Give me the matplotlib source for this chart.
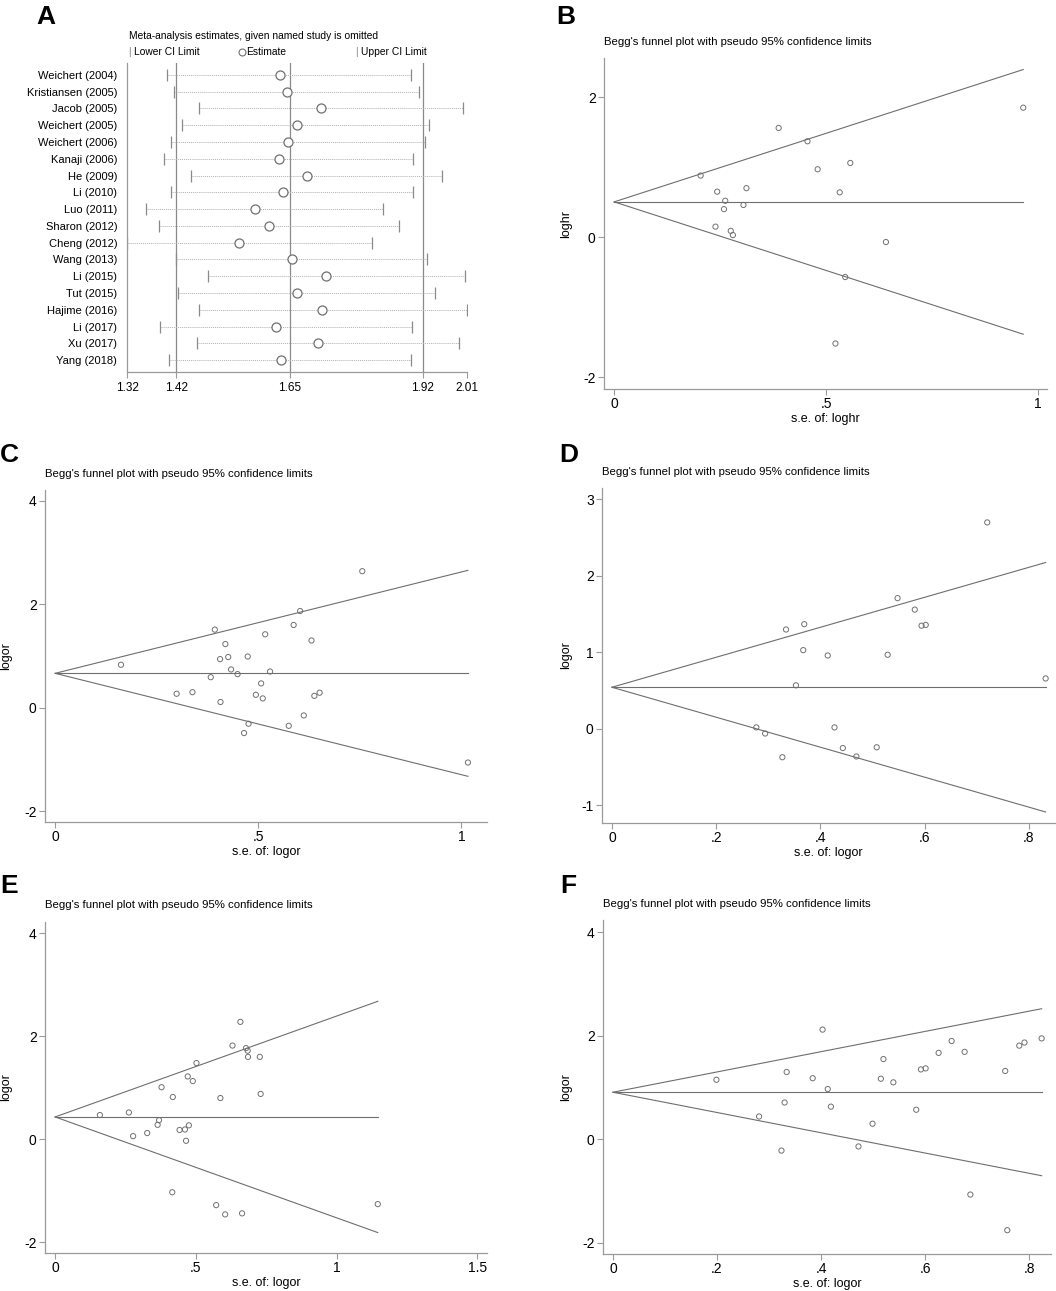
import matplotlib
matplotlib.use("Agg")
import matplotlib.pyplot as plt

plt.rcParams['font.family'] = ['Liberation Sans', 'DejaVu Sans']

W, H = 1056, 1291

# ---- panel A: leave-one-out sensitivity ----
studies = ["Weichert (2004)", "Kristiansen (2005)", "Jacob (2005)", "Weichert (2005)",
           "Weichert (2006)", "Kanaji (2006)", "He (2009)", "Li (2010)", "Luo (2011)",
           "Sharon (2012)", "Cheng (2012)", "Wang (2013)", "Li (2015)", "Tut (2015)",
           "Hajime (2016)", "Li (2017)", "Xu (2017)", "Yang (2018)"]
a_lower = [1.402, 1.416, 1.467, 1.432, 1.409, 1.396, 1.450, 1.409, 1.358,
           1.384, 1.320, 1.419, 1.484, 1.423, 1.467, 1.387, 1.463, 1.405]
a_est = [1.630, 1.645, 1.713, 1.664, 1.647, 1.629, 1.686, 1.637, 1.580,
         1.609, 1.548, 1.654, 1.724, 1.664, 1.716, 1.622, 1.708, 1.632]
a_upper = [1.896, 1.913, 2.001, 1.933, 1.924, 1.900, 1.960, 1.900, 1.840,
           1.873, 1.818, 1.929, 2.006, 1.946, 2.010, 1.898, 1.994, 1.897]
a_ticks = [1.32, 1.42, 1.65, 1.92, 2.01]
a_ref = [1.42, 1.65, 1.92]

# ---- panel B ----
b_se = [0.965, 0.388, 0.456, 0.204, 0.557, 0.480, 0.243, 0.312, 0.532, 0.262,
        0.305, 0.259, 0.239, 0.275, 0.280, 0.641, 0.545, 0.522]
b_eff = [1.85, 1.56, 1.37, 0.88, 1.06, 0.97, 0.65, 0.70, 0.64, 0.52,
         0.46, 0.40, 0.15, 0.09, 0.03, -0.07, -0.57, -1.52]
b_theta = 0.504

# ---- panel C ----
c_se = [0.756, 0.603, 0.587, 0.393, 0.517, 0.631, 0.419, 0.474, 0.426, 0.406,
        0.162, 0.433, 0.449, 0.529, 0.383, 0.507, 0.299, 0.338, 0.494, 0.407,
        0.511, 0.638, 0.651, 0.612, 0.476, 0.575, 0.465, 1.016]
c_eff = [2.64, 1.87, 1.60, 1.51, 1.42, 1.30, 1.23, 0.99, 0.98, 0.94,
         0.83, 0.74, 0.65, 0.70, 0.59, 0.47, 0.27, 0.30, 0.25, 0.11,
         0.18, 0.23, 0.29, -0.15, -0.31, -0.35, -0.49, -1.06]
c_theta = 0.665

# ---- panel D ----
d_se = [0.720, 0.548, 0.581, 0.334, 0.369, 0.594, 0.602, 0.367, 0.414, 0.529,
        0.353, 0.832, 0.277, 0.294, 0.427, 0.327, 0.443, 0.469, 0.508]
d_eff = [2.70, 1.71, 1.56, 1.30, 1.37, 1.35, 1.36, 1.03, 0.96, 0.97,
         0.57, 0.66, 0.02, -0.06, 0.02, -0.37, -0.25, -0.36, -0.24]
d_theta = 0.545

# ---- panel E ----
e_se = [0.658, 0.630, 0.678, 0.684, 0.685, 0.727, 0.502, 0.471, 0.489, 0.378,
        0.418, 0.587, 0.730, 0.159, 0.262, 0.369, 0.364, 0.475, 0.461, 0.442,
        0.327, 0.277, 0.465, 0.416, 0.572, 0.604, 0.664, 1.146]
e_eff = [2.28, 1.82, 1.77, 1.72, 1.60, 1.60, 1.48, 1.22, 1.13, 1.01,
         0.82, 0.80, 0.88, 0.47, 0.52, 0.37, 0.28, 0.27, 0.19, 0.18,
         0.12, 0.06, -0.03, -1.03, -1.28, -1.46, -1.44, -1.26]
e_theta = 0.433

# ---- panel F ----
f_se = [0.403, 0.824, 0.651, 0.791, 0.781, 0.626, 0.676, 0.520, 0.592, 0.601,
        0.334, 0.754, 0.199, 0.384, 0.515, 0.539, 0.413, 0.330, 0.419, 0.583,
        0.281, 0.499, 0.324, 0.472, 0.687, 0.758]
f_eff = [2.12, 1.95, 1.90, 1.87, 1.81, 1.67, 1.69, 1.55, 1.35, 1.37,
         1.30, 1.32, 1.15, 1.18, 1.17, 1.10, 0.97, 0.71, 0.63, 0.57,
         0.44, 0.30, -0.22, -0.14, -1.07, -1.76]
f_theta = 0.909

Z = 1.96
AXC = '#9a9a9a'
LNC = '#6e6e6e'

fig = plt.figure(figsize=(W / 100, H / 100), dpi=100)


def rect(x0, y0, x1, y1):
    return [x0 / W, 1 - y1 / H, (x1 - x0) / W, (y1 - y0) / H]


def style(ax):
    for s in ['top', 'right']:
        ax.spines[s].set_visible(False)
    for s in ['left', 'bottom']:
        ax.spines[s].set_color(AXC)
        ax.spines[s].set_linewidth(0.9)
    ax.tick_params(colors=AXC, labelcolor='black', width=0.8, length=4)


# panel A
axA = fig.add_axes(rect(127, 63, 467, 372))
style(axA)
rows = list(range(len(studies)))
for x in a_ref:
    axA.axvline(x, color='#8a8a8a', lw=0.9)
axA.hlines(rows, a_lower, a_upper, colors='#b0b0b0', lw=0.7, linestyles=(0, (1, 1)))
axA.plot(a_lower, rows, '|', color='#8a8a8a', ms=8, mew=0.9)
axA.plot(a_upper, rows, '|', color='#8a8a8a', ms=8, mew=0.9)
axA.plot(a_est, rows, 'o', mfc='white', mec='#707070', ms=6.5, mew=0.9)
axA.set_xlim(1.32, 2.01)
axA.set_ylim(17.7, -0.7)
axA.set_yticks(rows)
axA.set_yticklabels(studies, fontsize=8)
axA.tick_params(axis='y', length=0, pad=7)
axA.set_xticks(a_ticks)
axA.set_xticklabels([f"{t:.2f}" for t in a_ticks], fontsize=8.5)
axA.tick_params(axis='x', pad=3)

fig.text(129 / W, 1 - 36 / H, "Meta-analysis estimates, given named study is omitted",
         fontsize=7.4, va='center', ha='left')
fig.text(128 / W, 1 - 52 / H, "|", color='#8a8a8a', fontsize=7.5, va='center', ha='left')
fig.text(134 / W, 1 - 52 / H, "Lower CI Limit", fontsize=7.4, va='center', ha='left')
axA.plot([241.7 / W], [1 - 52 / H], 'o', mfc='white', mec='#707070', ms=5, mew=0.8,
         transform=fig.transFigure, clip_on=False)
fig.text(246 / W, 1 - 52 / H, "Estimate", fontsize=7.4, va='center', ha='left')
fig.text(355 / W, 1 - 52 / H, "|", color='#8a8a8a', fontsize=7.5, va='center', ha='left')
fig.text(361 / W, 1 - 52 / H, "Upper CI Limit", fontsize=7.4, va='center', ha='left')


def funnel(box, se, eff, theta, xlim, ylim, xticks, xlabs, yticks, ylab, title_xy, ylab_x):
    ax = fig.add_axes(rect(*box))
    style(ax)
    smax = max(se)
    ax.plot([0, smax], [theta, theta], color=LNC, lw=0.8)
    ax.plot([0, smax], [theta, theta + Z * smax], color=LNC, lw=0.8)
    ax.plot([0, smax], [theta, theta - Z * smax], color=LNC, lw=0.8)
    ax.scatter(se, eff, s=14, facecolors='none', edgecolors='#707070', linewidths=0.7)
    ax.set_xlim(*xlim)
    ax.set_ylim(*ylim)
    ax.set_xticks(xticks)
    ax.set_xticklabels(xlabs, fontsize=10)
    ax.set_yticks(yticks)
    ax.set_yticklabels([str(t) for t in yticks], fontsize=10)
    ax.tick_params(axis='y', pad=2)
    ax.tick_params(axis='x', pad=2)
    ax.set_xlabel("s.e. of: " + ylab, fontsize=9, labelpad=1)
    fig.text(title_xy[0] / W, 1 - title_xy[1] / H,
             "Begg's funnel plot with pseudo 95% confidence limits",
             fontsize=8.2, va='center', ha='left')
    y0, y1 = box[1], box[3]
    fig.text(ylab_x / W, 1 - (y0 + y1) / 2 / H, ylab, rotation=90, fontsize=9,
             va='center', ha='center')
    return ax


funnel((604, 58, 1047, 389), b_se, b_eff, b_theta, (-0.024, 1.021), (-2.17, 2.56),
       [0, 0.5, 1], ["0", ".5", "1"], [-2, 0, 2], "loghr", (604, 42), 566)
funnel((45, 490, 487, 822), c_se, c_eff, c_theta, (-0.025, 1.063), (-2.21, 4.21),
       [0, 0.5, 1], ["0", ".5", "1"], [-2, 0, 2, 4], "logor", (45, 474), 6)
funnel((602, 488, 1055, 823), d_se, d_eff, d_theta, (-0.019, 0.850), (-1.23, 3.15),
       [0, 0.2, 0.4, 0.6, 0.8], ["0", ".2", ".4", ".6", ".8"], [-1, 0, 1, 2, 3], "logor",
       (602, 472), 566)
funnel((45, 922, 487, 1253), e_se, e_eff, e_theta, (-0.036, 1.534), (-2.21, 4.22),
       [0, 0.5, 1, 1.5], ["0", ".5", "1", "1.5"], [-2, 0, 2, 4], "logor", (45, 905), 6)
funnel((603, 920, 1051, 1254), f_se, f_eff, f_theta, (-0.019, 0.842), (-2.22, 4.24),
       [0, 0.2, 0.4, 0.6, 0.8], ["0", ".2", ".4", ".6", ".8"], [-2, 0, 2, 4], "logor",
       (603, 904), 566)

for letter, x, y in [("A", 46, 17), ("B", 566, 17), ("C", 9, 455),
                     ("D", 569, 455), ("E", 9, 886), ("F", 568, 886)]:
    fig.text(x / W, 1 - y / H, letter, fontsize=19, fontweight='bold',
             va='center', ha='center')

fig.savefig("out.png", dpi=100)
